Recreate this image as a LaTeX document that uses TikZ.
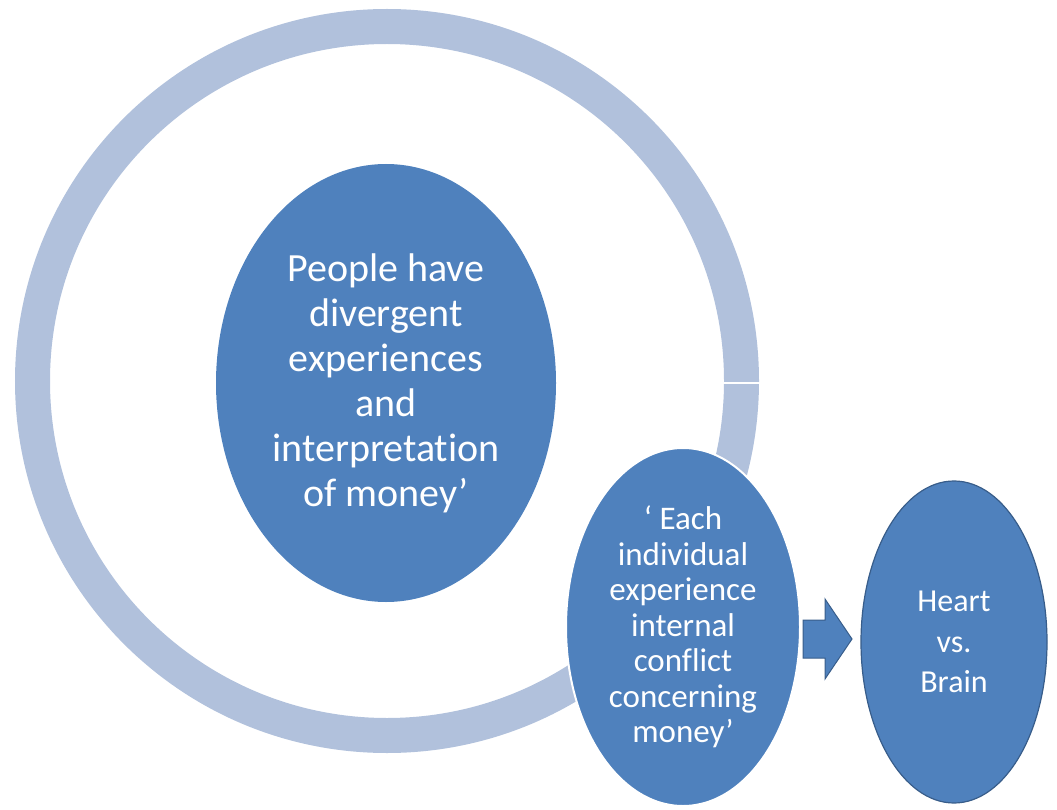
\documentclass[tikz,border=0pt]{standalone}
\usepackage{fontspec}
\setmainfont{Carlito}[Ligatures=NoCommon]
\usetikzlibrary{shapes.geometric}
\definecolor{ringblue}{HTML}{B1C1DC}
\definecolor{fillblue}{HTML}{4F81BD}
\definecolor{edgeblue}{HTML}{385D8A}
\tikzset{
  bubble/.style={ellipse, fill=fillblue, text=white, align=center, inner sep=0pt}
}
\begin{document}
\begin{tikzpicture}[x=1pt,y=-1pt]
\useasboundingbox (0,0) rectangle (1057,810);
\draw[ringblue, line width=35pt] (387,381) circle (354.5); % Anneau
\draw[white, line width=1.2pt] (723,383) -- (761,383);
%
\node[bubble, minimum width=340, minimum height=438,
  font=\fontsize{40}{45}\selectfont] (people) at (386,383)
  {People have\\divergent\\experiences\\and\\interpretation\\of money’};
\node[bubble, draw=white, line width=2pt, minimum width=234, minimum height=358,
  font=\fontsize{33}{35.5}\selectfont] (each) at (683,627)
  {‘ Each\\individual\\experience\\internal\\conflict\\concerning\\money’};
%
\coordinate (arr) at (803,639);
\draw[edgeblue, fill=fillblue, line width=1pt] (arr) ++(0,-19) -- ++(22,0) -- ++(0,-21)
  -- ++(27,40) -- ++(-27,40) -- ++(0,-21) -- ++(-22,0) -- cycle; % Fleche
%
\node[bubble, draw=edgeblue, line width=1.2pt, minimum width=186, minimum height=322,
  font=\fontsize{32}{40.5}\selectfont] (heart) at (954,642) {Heart\\vs.\\Brain};
\end{tikzpicture}
\end{document}
